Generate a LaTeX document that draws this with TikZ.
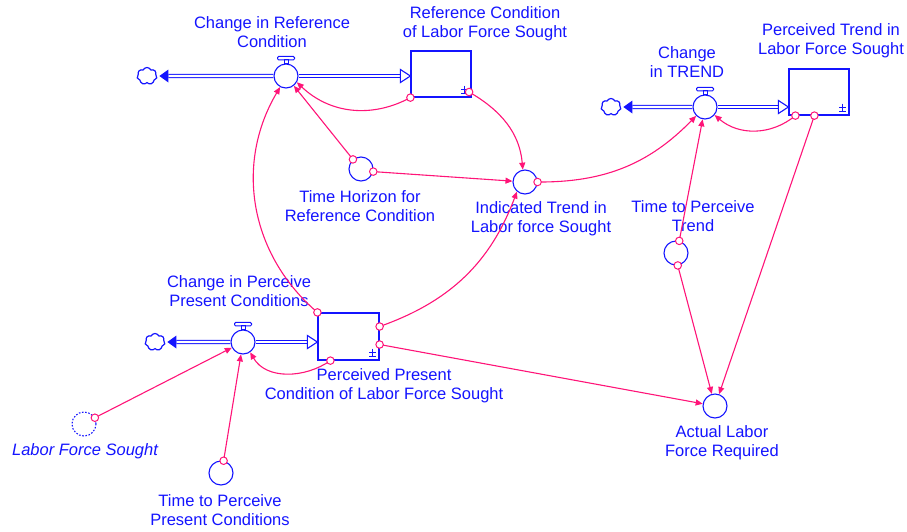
\documentclass[tikz,border=0pt]{standalone}
\usepackage{fontspec}
\setmainfont{Liberation Sans}
\usetikzlibrary{shapes.symbols,arrows.meta,calc}
\definecolor{vblue}{RGB}{20,20,255}
\definecolor{vpink}{RGB}{255,20,120}

\tikzset{
  lbl/.style={text=vblue, align=center, font=\fontsize{16.5}{19}\selectfont, inner sep=0pt},
  stockbox/.style={draw=vblue, line width=1.2pt, minimum width=60pt, minimum height=46pt, inner sep=0pt},
  auxc/.style={circle, draw=vblue, line width=1.1pt, minimum size=24pt, inner sep=0pt},
  shadowc/.style={auxc, dash pattern=on 1.6pt off 1.6pt},
  valvec/.style={auxc},
  sourcecloud/.style={cloud, cloud puffs=7, cloud puff arc=130, aspect=1.1, draw=vblue,
    line width=1.2pt, minimum width=20pt, minimum height=17pt, inner sep=0pt},
  pipe/.style={draw=vblue, line width=1.1pt, double=white, double distance=2.2pt},
  conn/.style={draw=vpink, line width=1.1pt, -{Triangle[length=7pt,width=6pt]}},
  tailc/.style={circle, draw=vpink, line width=1pt, fill=white, minimum size=7.5pt, inner sep=0pt},
  markln/.style={draw=vblue, line width=1pt},
}

% valve handle on top of a rate valve
\newcommand{\valvehandle}[1]{%
  \draw[markln] ([xshift=-2pt]#1.north) rectangle ([xshift=2pt,yshift=3.5pt]#1.north);
  \draw[markln, rounded corners=1.2pt] ([xshift=-8.5pt,yshift=3.5pt]#1.north)
    rectangle ([xshift=8.5pt,yshift=7pt]#1.north);}

% small sign in the lower right corner of a stock
\newcommand{\stocksign}[1]{%
  \draw[markln] ([shift={(-7pt,12pt)}]#1.south east) -- ++(0,-8pt)
    ([shift={(-10.5pt,8.5pt)}]#1.south east) -- ++(7pt,0)
    ([shift={(-10.5pt,4pt)}]#1.south east) -- ++(7pt,0);}

% pipe from a valve into a stock (hollow head) and out to a cloud (filled head)
\newcommand{\inflow}[3]{%
  \coordinate (#3) at (#1 -| #2.west);
  \draw[pipe] (#1.east) -- ([xshift=-10pt]#3);
  \draw[draw=vblue, line width=1.1pt, fill=white, line join=miter]
    ([shift={(-10pt,6.5pt)}]#3) -- (#3) -- ([shift={(-10pt,-6.5pt)}]#3) -- cycle;}
\newcommand{\outflow}[2]{%
  \draw[pipe] (#1.west) -- ([xshift=11pt]#2.east);
  \fill[vblue] ([xshift=2pt]#2.east) -- ([shift={(11pt,6.5pt)}]#2.east)
    -- ([shift={(11pt,-6.5pt)}]#2.east) -- cycle;}

\begin{document}
\begin{tikzpicture}[x=1pt,y=1pt]
\useasboundingbox (0,0) rectangle (907,-531);

% stocks
\node[stockbox] (s1) at (441,-74) {};
\node[stockbox] (s2) at (819,-92) {};
\node[stockbox, minimum width=61pt, minimum height=47pt] (s3) at (348.5,-336.5) {};
\stocksign{s1}
\stocksign{s2}
\stocksign{s3}

% valves and clouds
\node[valvec] (v1) at (286,-76) {};
\node[valvec] (v2) at (705,-107) {};
\node[valvec] (v3) at (243,-342) {};
\node[sourcecloud] (cl1) at (147,-76) {};
\node[sourcecloud] (cl2) at (611,-107) {};
\node[sourcecloud] (cl3) at (155,-342) {};
\valvehandle{v1}
\valvehandle{v2}
\valvehandle{v3}
\inflow{v1}{s1}{a1}
\inflow{v2}{s2}{a2}
\inflow{v3}{s3}{a3}
\outflow{v1}{cl1}
\outflow{v2}{cl2}
\outflow{v3}{cl3}

% auxiliaries
\node[auxc] (th) at (361,-169) {};
\node[auxc] (it) at (525,-182) {};
\node[auxc] (tpt) at (676,-253) {};
\node[auxc] (alf) at (715,-406) {};
\node[shadowc] (lfs) at (84,-424) {};
\node[auxc] (tpp) at (221,-473) {};

% labels
\node[lbl] (lv1) at (272,-32) {Change in Reference\\Condition};
\node[lbl] (ls1) at (485,-24) {Reference Condition\\of Labor Force Sought};
\node[lbl] (lv2) at (687,-62) {Change\\in TREND};
\node[lbl] (ls2) at (831,-41) {Perceived Trend in\\Labor Force Sought};
\node[lbl] (lth) at (360,-206) {Time Horizon for\\Reference Condition};
\node[lbl] (lit) at (541,-219) {Indicated Trend in\\Labor force Sought};
\node[lbl] (ltpt) at (693,-216) {Time to Perceive\\Trend};
\node[lbl] (lv3) at (239,-291) {Change in Perceive\\Present Conditions};
\node[lbl] (ls3) at (384,-386) {Perceived Present\\Condition of Labor Force Sought};
\node[lbl] (lalf) at (722,-443) {Actual Labor\\Force Required};
\node[lbl, font=\fontsize{16.5}{19}\selectfont\itshape] (llfs) at (85,-451) {Labor Force Sought};
\node[lbl] (ltpp) at (220,-510) {Time to Perceive\\Present Conditions};

% connectors
\draw[conn] (s1.south west) to[bend left=36] node[tailc,pos=0]{} (v1.-30);
\draw[conn] ([shift={(-2.5pt,-18pt)}]s1.east) to[out=-30,in=95] node[tailc,pos=0]{} (it.100);
\draw[conn] (th.130) -- node[tailc,pos=0]{} (v1);
\draw[conn] (th.-12) -- node[tailc,pos=0]{} (it);
\draw[conn] (it.east) to[bend right=23] node[tailc,pos=0]{} (v2.-135);
\draw[conn] (tpt.75) -- node[tailc,pos=0]{} (v2);
\draw[conn] ([xshift=7pt]s2.south west) to[bend left=40] node[tailc,pos=0]{} (v2.-40);
\draw[conn] ([xshift=26pt]s2.south west) -- node[tailc,pos=0]{} (alf);
\draw[conn] (tpt.-82) -- node[tailc,pos=0]{} (alf);
\draw[conn] ([yshift=-8pt]s3.east) -- node[tailc,pos=0]{} (alf);
\draw[conn] ([yshift=10pt]s3.east) to[bend right=25] node[tailc,pos=0]{} (it.-130);
\draw[conn] (s3.north west) to[bend left=40] node[tailc,pos=0]{} (v1.-118);
\draw[conn] ([xshift=13pt]s3.south west) to[out=215,in=-60] node[tailc,pos=0]{} (v3.-55);
\draw[conn] (lfs.30) -- node[tailc,pos=0]{} (v3);
\draw[conn] (tpp.78) -- node[tailc,pos=0]{} (v3);
\end{tikzpicture}
\end{document}
